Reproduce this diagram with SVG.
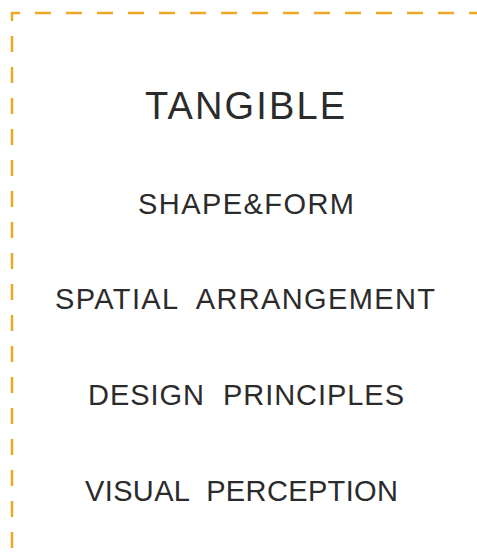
<svg xmlns="http://www.w3.org/2000/svg" width="477" height="557" viewBox="0 0 477 557">
<style>
.t{font-family:"Liberation Sans",Arial,sans-serif;fill:#2b2b2b;white-space:pre}
.h{font-size:38px}
.s{font-size:29px}
</style>
<rect width="477" height="557" fill="#ffffff"/>
<path id="border" d="M12,557 V13 H477" fill="none" stroke="#EFA623" stroke-width="2.5" stroke-dasharray="16 15" stroke-dashoffset="22"/>
<g id="title"><text class="t h" x="145" y="119" textLength="200" lengthAdjust="spacing">TANGIBLE</text></g>
<g id="item1"><text class="t s" x="138" y="214" textLength="216" lengthAdjust="spacing">SHAPE&amp;FORM</text></g>
<g id="item2"><text class="t s" x="55" y="309" textLength="380" lengthAdjust="spacing">SPATIAL  ARRANGEMENT</text></g>
<g id="item3"><text class="t s" x="88" y="405" textLength="316" lengthAdjust="spacing">DESIGN  PRINCIPLES</text></g>
<g id="item4"><text class="t s" x="85" y="501" textLength="313" lengthAdjust="spacing">VISUAL  PERCEPTION</text></g>
</svg>
